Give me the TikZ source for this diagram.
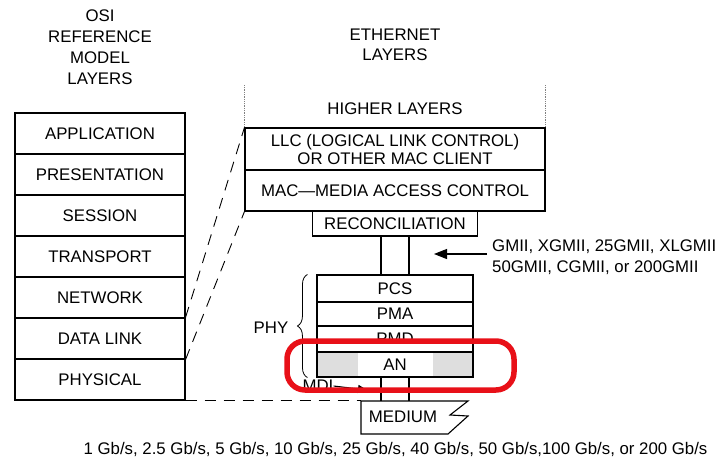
\documentclass[tikz,border=0pt]{standalone}
\usepackage{fontspec}
\setmainfont{Liberation Sans}
\usetikzlibrary{arrows.meta,decorations.pathreplacing}
\definecolor{markred}{RGB}{232,16,24}

\begin{document}
\begin{tikzpicture}[x=1pt,y=-1pt,
  txt/.style={font=\fontsize{16.8}{20}\selectfont, inner sep=0pt, align=center},
  layerbox/.style={txt, draw, line width=1.1pt, minimum width=170pt, minimum height=41pt},
  ethbox/.style={txt, draw, line width=1.1pt},
  wire/.style={line width=1.1pt},
  dashlink/.style={line width=0.9pt, dash pattern=on 11pt off 8pt},
  hlline/.style={draw=gray, line width=1.3pt, densely dotted},
  phybrace/.style={decorate, decoration={brace, amplitude=10pt}, line width=0.8pt},
  redmark/.style={draw=markred, line width=5.5pt, rounded corners=18pt, inner sep=0pt}]
\useasboundingbox (0,0) rectangle (720,461);

\node [txt, font=\fontsize{16.8}{21}\selectfont] (osititle) at (100,47) {OSI\\REFERENCE\\MODEL\\LAYERS};
\foreach \name/\lbl [count=\i from 0] in {app/APPLICATION, pres/PRESENTATION, sess/SESSION, trans/TRANSPORT, net/NETWORK, dlink/DATA LINK, phys/PHYSICAL}
  \node [layerbox] (\name) at (100,133.5+41*\i) {\lbl};

\node [txt] (ethtitle) at (395,45) {ETHERNET\\LAYERS};
\node [txt] (higher) at (395,109) {HIGHER LAYERS};
\node [ethbox, minimum width=300pt, minimum height=42pt, font=\fontsize{16.8}{18}\selectfont] (llc) at (395,149) {LLC (LOGICAL LINK CONTROL)\\OR OTHER MAC CLIENT};
\node [ethbox, minimum width=300pt, minimum height=41pt] (mac) at (395,190.5) {MAC---MEDIA ACCESS CONTROL};
\node [ethbox, minimum width=165pt, minimum height=25pt] (recon) at (395,223.5) {RECONCILIATION};
\node [ethbox, minimum width=156pt, minimum height=27pt] (pcs) at (395,288.5) {PCS};
\node [ethbox, minimum width=156pt, minimum height=24pt] (pma) at (395,314) {PMA};
\node [ethbox, minimum width=156pt, minimum height=26pt] (pmd) at (395,339) {PMD};
\node [ethbox, fill=black!13, minimum width=156pt, minimum height=25pt] (an) at (395,364.5) {};
\node [txt, fill=white, minimum width=75pt, minimum height=23pt] (anlabel) at (an) {AN};

\draw [hlline] (llc.north west) -- ++(0,-43);
\draw [hlline] (llc.north east) -- ++(0,-43);

\draw [wire] ([xshift=-14pt]recon.south) -- ([xshift=-14pt]pcs.north);
\draw [wire] ([xshift=14pt]recon.south) -- ([xshift=14pt]pcs.north);

\node [txt, anchor=west, font=\fontsize{16.8}{21}\selectfont, align=left] (gmii) at (492,257.5) {GMII, XGMII, 25GMII, XLGMII\\50GMII, CGMII, or 200GMII};
\coordinate (gmiitail) at (487,254);
\coordinate (gmiitip) at (434,254);
\draw [wire, -{Triangle[length=13pt,width=10pt]}] (gmiitail) -- (gmiitip);

\draw [phybrace] ([xshift=-9pt]an.south west) -- ([xshift=-9pt]pcs.north west);
\node [txt] (phy) at (271,328) {PHY};

\coordinate (mtl) at (361,401);
\draw [wire] (mtl) -- (468,401) -- (450,415) -- (468,416) -- (448,434) -- (361,434) -- cycle;
\node [txt] (medium) at (403,417) {MEDIUM};
\draw [wire] ([xshift=-14pt]an.south) -- ([xshift=-14pt]an.south |- mtl);
\draw [wire] ([xshift=14pt]an.south) -- ([xshift=14pt]an.south |- mtl);

\node [txt] (mdi) at (318,386) {MDI};
\coordinate (mditip) at (367,390);
\draw [wire, -{Triangle[length=9pt,width=8pt]}] (mdi.east) -- (mditip);

\draw [dashlink] (dlink.north east) -- (llc.north west);
\draw [dashlink] (dlink.south east) -- (mac.south west);
\draw [dashlink] (phys.south east) -- (phys.south east -| mtl);

\node [redmark, minimum width=227pt, minimum height=49pt] (anmark) at (400.5,365.5) {};

\node [txt] (speeds) at (395.5,449) {1 Gb/s, 2.5 Gb/s, 5 Gb/s, 10 Gb/s, 25 Gb/s, 40 Gb/s, 50 Gb/s,100 Gb/s, or 200 Gb/s};
\end{tikzpicture}
\end{document}
